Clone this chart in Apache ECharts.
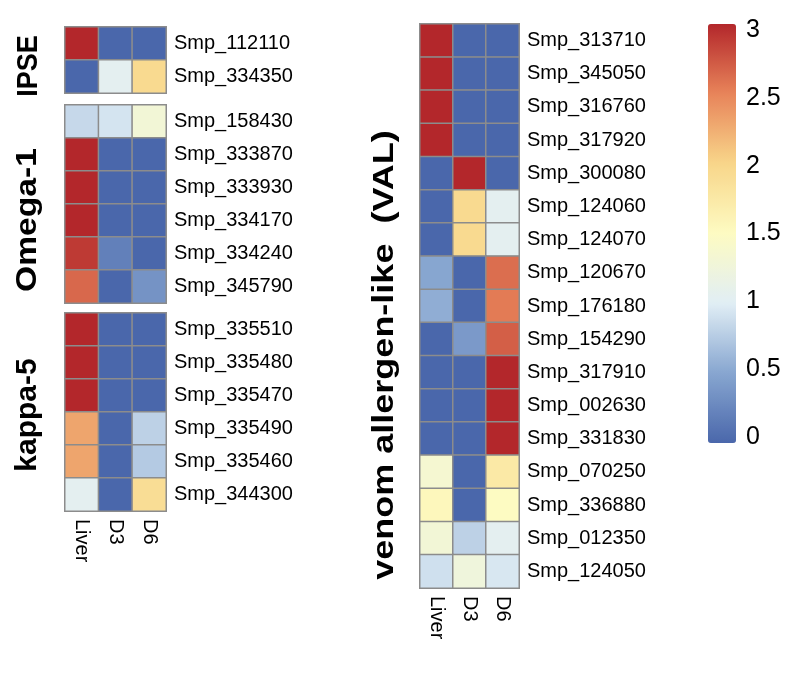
<!DOCTYPE html>
<html>
<head>
<meta charset="utf-8">
<script src="https://cdn.jsdelivr.net/npm/echarts@6/dist/echarts.min.js"></script>
<style>
html,body{margin:0;padding:0;background:#fff;}
#main{width:800px;height:673px;}
</style>
</head>
<body>
<div id="main"></div>
<script>
// ---- data ----
const columns = ['Liver', 'D3', 'D6'];

const ipseGenes = ['Smp_112110', 'Smp_334350'];
const ipseValues = [
  [3.0, 0.0, 0.0],
  [0.0, 1.05, 1.95]
];

const omegaGenes = ['Smp_158430', 'Smp_333870', 'Smp_333930', 'Smp_334170', 'Smp_334240', 'Smp_345790'];
const omegaValues = [
  [0.85, 0.93, 1.3],
  [3.0, 0.0, 0.0],
  [3.0, 0.0, 0.0],
  [3.0, 0.0, 0.0],
  [2.9, 0.2, 0.0],
  [2.65, 0.0, 0.35]
];

const kappaGenes = ['Smp_335510', 'Smp_335480', 'Smp_335470', 'Smp_335490', 'Smp_335460', 'Smp_344300'];
const kappaValues = [
  [3.0, 0.0, 0.0],
  [3.0, 0.0, 0.0],
  [3.0, 0.0, 0.0],
  [2.3, 0.0, 0.8],
  [2.3, 0.0, 0.75],
  [1.05, 0.0, 1.9]
];

const valGenes = ['Smp_313710', 'Smp_345050', 'Smp_316760', 'Smp_317920', 'Smp_300080', 'Smp_124060',
  'Smp_124070', 'Smp_120670', 'Smp_176180', 'Smp_154290', 'Smp_317910', 'Smp_002630', 'Smp_331830',
  'Smp_070250', 'Smp_336880', 'Smp_012350', 'Smp_124050'];
const valValues = [
  [3.0, 0.0, 0.0],
  [3.0, 0.0, 0.0],
  [3.0, 0.0, 0.0],
  [3.0, 0.0, 0.0],
  [0.0, 3.0, 0.0],
  [0.0, 1.95, 1.05],
  [0.0, 1.95, 1.05],
  [0.5, 0.0, 2.62],
  [0.55, 0.0, 2.55],
  [0.0, 0.4, 2.7],
  [0.0, 0.0, 3.0],
  [0.0, 0.0, 3.0],
  [0.0, 0.0, 3.0],
  [1.35, 0.0, 1.75],
  [1.55, 0.0, 1.5],
  [1.3, 0.8, 1.05],
  [0.9, 1.25, 0.95]
];

const groupTitles = ['IPSE', 'Omega-1', 'kappa-5', 'venom allergen-like  (VAL)'];
const scaleTicks = [0, 0.5, 1, 1.5, 2, 2.5, 3];
const paletteColors = ['#4a67ab', '#87a6d0', '#e1eef5', '#fdfbc2', '#f8d68a', '#e8845a', '#b3272b'];

// ---- build ----
function toCells(vals) {
  const out = [];
  vals.forEach((row, r) => row.forEach((v, c) => out.push([c, r, v])));
  return out;
}

const FONT = 'Liberation Sans, Arial, Helvetica, sans-serif';

const grids = [
  {left: 65, top: 27, width: 101, height: 66},
  {left: 65, top: 105, width: 101, height: 198},
  {left: 65, top: 313, width: 101, height: 198},
  {left: 420, top: 24, width: 99, height: 564},
  {left: 708, top: 30, width: 28, height: 407}
];

const groups = [
  {genes: ipseGenes, vals: ipseValues, showX: false},
  {genes: omegaGenes, vals: omegaValues, showX: false},
  {genes: kappaGenes, vals: kappaValues, showX: true},
  {genes: valGenes, vals: valValues, showX: true}
];

const xAxes = groups.map((g, i) => ({
  type: 'category', gridIndex: i, data: columns, position: 'bottom',
  axisLine: {show: false}, axisTick: {show: false}, splitLine: {show: false},
  axisLabel: {show: g.showX, rotate: -90, margin: 8, fontSize: 20, color: '#000', fontFamily: FONT}
}));
xAxes.push({type: 'value', gridIndex: 4, show: false});

const yAxes = groups.map((g, i) => ({
  type: 'category', gridIndex: i, data: g.genes, inverse: true, position: 'right',
  axisLine: {show: false}, axisTick: {show: false}, splitLine: {show: false},
  axisLabel: {margin: 8, fontSize: 20, color: '#000', fontFamily: FONT}
}));
yAxes.push({
  type: 'value', gridIndex: 4, min: 0, max: 3, interval: 0.5, position: 'right',
  axisLine: {show: false}, axisTick: {show: false}, splitLine: {show: false},
  axisLabel: {margin: 10, fontSize: 25, color: '#000', fontFamily: FONT,
    formatter: v => scaleTicks.indexOf(v) >= 0 ? String(v) : ''}
});

const series = groups.map((g, i) => ({
  type: 'heatmap', xAxisIndex: i, yAxisIndex: i, data: toCells(g.vals),
  itemStyle: {borderColor: '#8c8c8c', borderWidth: 1.5},
  emphasis: {disabled: true}, progressive: 0
}));

const titleSpecs = [
  {x: 29, y: 66, s: 0.9},
  {x: 28, y: 220, s: 1.12},
  {x: 28, y: 415, s: 1.0},
  {x: 385, y: 355, s: 1.2}
];

const graphics = groupTitles.map((t, i) => ({
  type: 'text', x: titleSpecs[i].x, y: titleSpecs[i].y, rotation: Math.PI / 2,
  scaleX: titleSpecs[i].s, scaleY: 1,
  style: {text: t, fontSize: 30, fontWeight: 'bold', fontFamily: FONT, fill: '#000',
    textAlign: 'center', textVerticalAlign: 'middle'}
}));

const option = {
  animation: false,
  backgroundColor: '#fff',
  grid: grids,
  xAxis: xAxes,
  yAxis: yAxes,
  visualMap: {
    type: 'continuous', min: 0, max: 3, seriesIndex: [0, 1, 2, 3],
    left: 708, top: 24, itemWidth: 28, itemHeight: 419, padding: 0,
    calculable: false, showLabel: false, text: null, hoverLink: false,
    inRange: {color: paletteColors}
  },
  graphic: graphics,
  series: series
};

const chart = echarts.init(document.getElementById('main'), null, {renderer: 'canvas'});
chart.setOption(option);
</script>
</body>
</html>
